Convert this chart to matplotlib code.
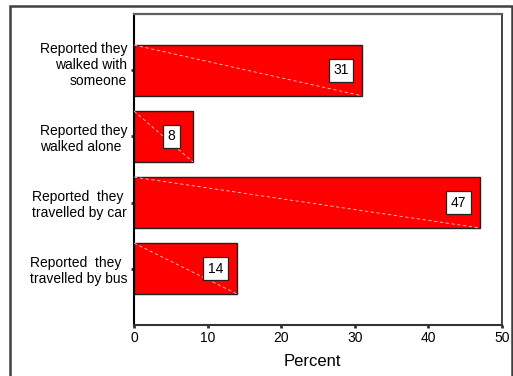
import matplotlib
matplotlib.use("Agg")
import matplotlib.pyplot as plt
from matplotlib.patches import Rectangle

plt.rcParams['font.family'] = ['Liberation Sans', 'DejaVu Sans']

categories = [
    "Reported they\nwalked with\nsomeone",
    "Reported they\nwalked alone",
    "Reported  they\ntravelled by car",
    "Reported  they\ntravelled by bus",
]
label_align = ['right', 'left', 'left', 'left']
percent = [31, 8, 47, 14]
x_ticks = [0, 10, 20, 30, 40, 50]

fig = plt.figure(figsize=(5.13, 3.76), dpi=100)
ax = fig.add_axes([134 / 513, 1 - 325 / 376, 368 / 513, 311 / 376])

n = len(categories)
ypos = [n - 1 - i for i in range(n)]
bar_h = 0.77

bars = ax.barh(ypos, percent, height=bar_h, color='#ff0000',
               edgecolor='#222222', linewidth=1.0, zorder=2)

# faint dashed diagonal across each bar
for y, v in zip(ypos, percent):
    ax.plot([0, v], [y + bar_h / 2, y - bar_h / 2], color='#ffc8c8',
            lw=0.6, ls=(0, (4, 3)), zorder=3)

# value labels in boxes near the end of each bar
for y, v in zip(ypos, percent):
    ax.annotate(f"{v:.0f}", xy=(v, y), xytext=(-15.5, 0),
                textcoords='offset points', ha='center', va='center',
                fontsize=10, color='black', zorder=4,
                bbox=dict(boxstyle='square,pad=0.32', fc='white',
                          ec='#222222', lw=0.9))

ax.set_xlim(0, 50)
ax.set_ylim(-0.855, n - 1 + 0.855)
ax.set_xticks(x_ticks)
ax.set_xticklabels([str(t) for t in x_ticks], fontsize=10)
ax.set_yticks(ypos)
ax.set_yticklabels(["Reported they\nwalked with\nsomeone\n"] + categories[1:],
                   fontsize=10)
for tl, al in zip(ax.get_yticklabels(), label_align):
    tl.set_multialignment(al)

ax.tick_params(axis='x', length=2, width=2, pad=2, color='#333333')
ax.tick_params(axis='y', length=2, width=2, pad=3, color='#333333')
ax.set_xlabel("Percent", fontsize=12)
ax.xaxis.set_label_coords(0.484, -0.093)

ax.spines['left'].set_color('black')
ax.spines['left'].set_linewidth(1.5)
ax.spines['bottom'].set_color('#333333')
ax.spines['bottom'].set_linewidth(1.5)
ax.spines['top'].set_color('#606060')
ax.spines['top'].set_linewidth(1.6)
ax.spines['top'].set_zorder(5)
ax.spines['right'].set_color('#222222')
ax.spines['right'].set_linewidth(1.2)

# outer frame around the chart
fig.patches.append(Rectangle((10 / 513, -0.05), 502 / 513, 1.05 - 6 / 376,
                             transform=fig.transFigure, fill=False,
                             ec='#404040', lw=1.8))

fig.savefig("out.png", dpi=100)
